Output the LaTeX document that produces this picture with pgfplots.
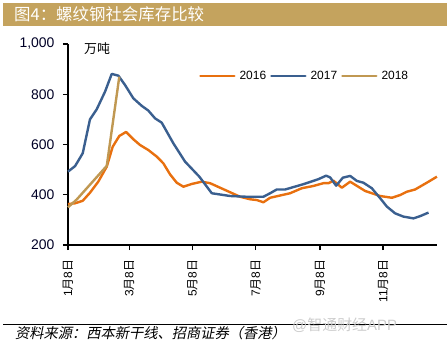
\documentclass[border=0pt]{standalone}
\usepackage{fontspec}
\setmainfont{Liberation Sans}
\newfontfamily\cjk{Noto Sans CJK SC}
\newfontfamily\cjkit{Noto Sans CJK SC}[FakeSlant=0.2]
\usepackage{pgfplots}
\pgfplotsset{compat=1.18}
\definecolor{c16}{RGB}{232,112,15}
\definecolor{c17}{RGB}{58,95,143}
\definecolor{c18}{RGB}{192,152,82}
\definecolor{titlebar}{RGB}{196,163,94}

\pgfplotstableread{
d v
0 363
6.8 366
14.2 376
21.2 408
29.2 452
37.4 512
43.1 591
49.5 634
56 650
63 621
69.5 598
77.5 578
85.6 552
92 525
98.5 481
104.9 448
111.3 432
119.4 443
129.1 452
137.1 446
146.7 428
156.4 410
166 392
175.7 382
182.1 379
188.5 370
195 388
204.6 397
214.3 406
225.6 426
236.8 435
246.4 446
251.3 446
256.1 456
264.2 428
272.2 452
286.7 415
301.2 395
312.5 388
320.5 399
326.9 412
334.9 421
346.2 448
355.9 472
}\dataA

\pgfplotstableread{
d v
0 492
6.8 514
14.2 565
21.2 700
27.7 740
35.7 810
42.2 881
48.6 874
55 837
63 784
71.1 754
77.5 735
84 704
90.4 687
101.6 605
112.9 532
126.7 472
138.7 406
156.4 395
172.5 392
188.5 392
195 406
201.4 421
209.5 421
227.1 442
241.6 462
249 476
252.9 469
258.7 436
265.2 468
272.2 475
278.7 455
285 448
293.1 426
301.2 386
307.6 353
315.6 326
323.6 313
333.3 306
339.8 315
347.8 329
}\dataB

\pgfplotstableread{
d v
0 350
8.4 381
37.4 515
49.5 870
}\dataC

\begin{document}
\begin{tikzpicture}
\fill[titlebar] (3bp,318bp) rectangle (447bp,341bp);
\node[anchor=west, text=white, inner sep=0pt, font=\cjk\fontsize{16.5}{18}\selectfont] at (14bp,329.5bp) {图4：螺纹钢社会库存比较};
\begin{axis}[
 at={(68bp,99bp)}, anchor=south west, scale only axis,
 width=369bp, height=201bp,
 xmin=0, xmax=356, ymin=200, ymax=1000,
 axis lines*=left,
 axis line style={line width=1.3bp, black},
 tick align=outside, major tick length=5bp,
 tick style={black, line width=1.3bp},
 xtick={0,59,120,181,243,304},
 xticklabels={1{\cjk 月}8{\cjk 日},3{\cjk 月}8{\cjk 日},5{\cjk 月}8{\cjk 日},7{\cjk 月}8{\cjk 日},9{\cjk 月}8{\cjk 日},11{\cjk 月}8{\cjk 日}},
 xticklabel style={rotate=90, anchor=east, font=\fontsize{12}{14}\selectfont},
 xticklabel shift=6bp,
 ytick={200,400,600,800,1000},
 yticklabels={200,400,600,800,{1,000}},
 yticklabel style={font=\fontsize{14}{16}\selectfont, text=black!85!blue},
 yticklabel shift=5bp,
 legend columns=3,
 legend style={at={(0.355,0.84)}, anchor=west, draw=none, fill=none, inner sep=0pt,
   font=\fontsize{12}{14}\selectfont, column sep=2bp},
 legend image code/.code={\draw[#1, line cap=round] (0bp,0bp) -- (34bp,0bp);},
 every axis plot/.append style={line width=2.4bp, line join=round, mark=none},
 clip=false,
]
\addplot[c16] table[x=d,y=v] {\dataA};
\addlegendentry{2016}
\addplot[c17] table[x=d,y=v] {\dataB};
\addlegendentry{2017}
\addplot[c18] table[x=d,y=v] {\dataC};
\addlegendentry{2018}
\node[anchor=west, inner sep=0pt, font=\cjk\fontsize{13}{15}\selectfont] at (rel axis cs:0.043,0.975) {万吨};
\end{axis}
\draw[line width=0.8bp] (3bp,20bp) -- (447bp,20bp);
\node[anchor=west, inner sep=0pt, text=black!20, font=\fontsize{15}{17}\selectfont] at (292bp,19bp) {@{\cjk 智通财经}APP};
\node[anchor=west, inner sep=0pt, font=\cjkit\fontsize{14.3}{16}\selectfont] at (15bp,11bp) {资料来源：西本新干线、招商证券（香港）};
\pgfresetboundingbox
\useasboundingbox (0,0) rectangle (447bp,344bp);
\end{tikzpicture}
\end{document}
